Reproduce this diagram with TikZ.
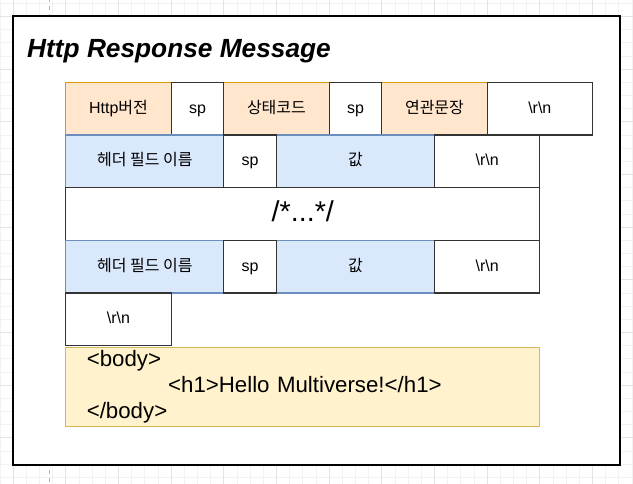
\documentclass[tikz,border=0pt]{standalone}
\usepackage{fontspec}
\setmainfont{Liberation Sans}
\newfontfamily\kr{Noto Sans CJK KR}
\usepackage{xcolor}
\definecolor{orFill}{HTML}{FFE6CC}
\definecolor{orLine}{HTML}{D79B00}
\definecolor{blFill}{HTML}{DAE8FC}
\definecolor{blLine}{HTML}{6C8EBF}
\definecolor{ylFill}{HTML}{FFF2CC}
\definecolor{ylLine}{HTML}{D6B656}
\definecolor{gridMinor}{HTML}{F2F2F2}
\definecolor{gridMajor}{HTML}{E3E3E3}

\begin{document}
\begin{tikzpicture}[x=39.5pt, y=-39.5pt,
    cell/.style={draw=black!80, line width=0.9pt, fill=white, anchor=north west,
        inner sep=0pt, outer sep=0pt, minimum height=39.5pt,
        text height=10pt, text depth=3pt,
        font=\fontsize{12}{14}\selectfont},
    orcell/.style={cell, draw=orLine, fill=orFill},
    bluecell/.style={cell, draw=blLine, fill=blFill},
    wa/.style={minimum width=39.5pt},
    wb/.style={minimum width=79pt},
    wc/.style={minimum width=118.5pt}]
    \useasboundingbox (-1.249,-1.5626) rectangle (10.769,7.608);
    % 1. Nền lưới
    \foreach \i in {-5,...,43} {
        \draw[gridMinor, line width=0.6pt] (\i/4,-1.6) -- (\i/4,7.65);
    }
    \foreach \j in {-7,...,31} {
        \draw[gridMinor, line width=0.6pt] (-1.3,\j/4) -- (10.8,\j/4);
    }
    \foreach \i in {-1,...,10} {
        \draw[gridMajor, line width=0.6pt] (\i,-1.6) -- (\i,7.65);
    }
    \foreach \j in {-1.25,-0.25,...,7.75} {
        \draw[gridMajor, line width=0.6pt] (-1.3,\j) -- (10.8,\j);
    }
    \draw[black!30, dashed, line width=0.6pt] (-0.319,-1.6) -- (-0.319,7.65);
    
    % 2. Khung ngoài và tiêu đề
    \draw[line width=1.5pt, fill=white] (-1,-1.25) rectangle (10.52,7.27);
    \node[anchor=base west, inner sep=0pt,
        font=\fontsize{19.7}{24}\selectfont\bfseries\itshape] (title)
        at (-0.737,-0.475) {Http Response Message};
    
    % 3. Dòng trạng thái
    \node[orcell, wb] (ver) at (0,0) {Http{\kr 버전}};
    \node[orcell, wb] (code) at (3,0) {{\kr 상태코드}};
    \node[orcell, wb] (phrase) at (6,0) {{\kr 연관문장}};
    \node[cell, wa] (spA) at (2,0) {sp};
    \node[cell, wa] (spB) at (5,0) {sp};
    \node[cell, wb] (crlfA) at (8,0) {\textbackslash r\textbackslash n};
    
    % 4. Các dòng header
    \node[bluecell, wc] (nameA) at (0,1) {{\kr 헤더 필드 이름}};
    \node[bluecell, wc] (valA) at (4,1) {{\kr 값}};
    \node[cell, wa] (spC) at (3,1) {sp};
    \node[cell, wb] (crlfB) at (7,1) {\textbackslash r\textbackslash n};
    \node[cell, minimum width=355.5pt, text height=16pt, text depth=5pt,
        font=\fontsize{21.5}{25}\selectfont] (etc) at (0,2) {/*...*/};
    \node[bluecell, wc] (nameB) at (0,3) {{\kr 헤더 필드 이름}};
    \node[bluecell, wc] (valB) at (4,3) {{\kr 값}};
    \node[cell, wa] (spD) at (3,3) {sp};
    \node[cell, wb] (crlfC) at (7,3) {\textbackslash r\textbackslash n};
    \node[cell, wb] (crlfD) at (0,4) {\textbackslash r\textbackslash n};
    
    % 5. Phần thân
    \node[cell, draw=ylLine, fill=ylFill, minimum width=355.5pt,
        minimum height=59.25pt, text width=324pt, text height=, text depth=,
        align=left, font=\fontsize{16.7}{19.5}\selectfont] (body) at (0,5.03)
        {<body>\\\hspace*{61pt}<h1>Hello Multiverse!</h1>\\</body>};
\end{tikzpicture}
\end{document}
